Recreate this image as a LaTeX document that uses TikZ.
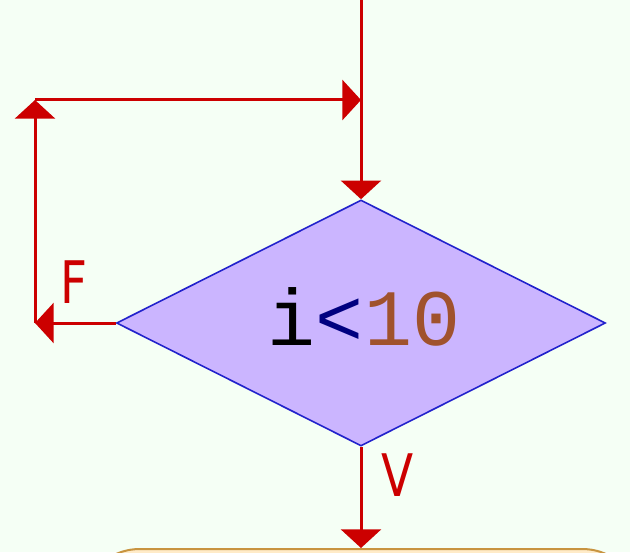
\documentclass[tikz,border=0pt]{standalone}
\usepackage{fontspec}
\setmainfont{DejaVu Sans}
\newfontfamily\codefont{Liberation Mono}
\usetikzlibrary{shapes.geometric,arrows.meta}
\definecolor{bgcol}{HTML}{F5FFF5}
\definecolor{flowred}{HTML}{CC0000}
\definecolor{decfill}{HTML}{CBB5FF}
\definecolor{decline}{HTML}{2222CC}
\definecolor{opcol}{HTML}{000080}
\definecolor{numcol}{HTML}{A0522D}
\definecolor{boxline}{HTML}{C89440}
\definecolor{boxfill}{HTML}{FFEBC8}
\tikzset{
  flow/.style={draw=flowred, line width=2.25pt, -{Triangle[length=14pt,width=30pt]}},
  decision/.style={diamond, draw=decline, fill=decfill, line width=1.2pt, inner sep=0pt,
    minimum width=366.75pt, minimum height=184.5pt},
  lbl/.style={text=flowred, xscale=0.8, font=\fontsize{44}{48}\selectfont},
}
\begin{document}
\begin{tikzpicture}[x=0.75pt,y=-0.75pt]
  \fill[bgcol] (0,0) rectangle (630,552);
  \useasboundingbox (0,0) rectangle (630,552);
  \clip (0,0) rectangle (630,552);
  % decision and the box below it
  \node[decision] (test) at (361,323) {};
  \node[anchor=base, inner sep=0pt, font=\codefont\fontsize{60}{64}\selectfont] (cond) at (364,345)
    {i\textcolor{opcol}{<}\textcolor{numcol}{10}};
  \node[draw=boxline, fill=boxfill, line width=1.5pt, rounded corners=45pt,
    minimum width=421.5pt, minimum height=150pt, anchor=north] (body) at (361,548) {};
  % loop back
  \coordinate (fl) at (35,323);
  \coordinate (ft) at (35,100);
  \coordinate (join) at (361,100);
  \coordinate (top) at (361,0);
  \draw[flow] (top) -- (test.north);
  \draw[flow] (test.west) -- (fl);
  \draw[flow] (fl) -- (ft);
  \draw[flow] (ft) -- (join);
  \draw[flow] (test.south) -- (body.north);
  \node[lbl] (f) at (74,282) {F};
  \node[lbl] (v) at (398,475) {V};
\end{tikzpicture}
\end{document}
